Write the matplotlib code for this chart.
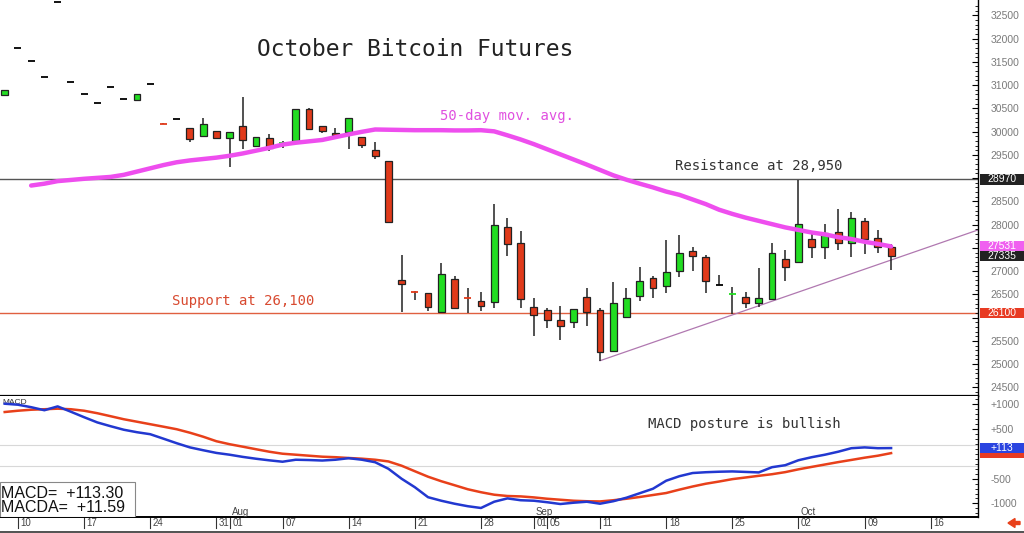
import matplotlib
matplotlib.use("Agg")
import matplotlib.pyplot as plt
import matplotlib.transforms as mtransforms
from matplotlib.patches import Rectangle, FancyArrow
from matplotlib.lines import Line2D
import numpy as np
import pandas as pd

# ---------------- data ----------------
trading_days = [d for d in pd.bdate_range("2023-07-07", "2023-10-20") if d != pd.Timestamp("2023-09-04")]
n_bars = 68
dates = trading_days[:n_bars]

opens = [30793, 31791, 31518, 31180, 32793, 31073, 30815, 30621, 30952, 30707,
         30679, 31017, 30180, 30271, 30084, 29912, 30013, 29856, 30127, 29697,
         29856, 29755, 29798, 30479, 30127, 29960, 29998, 29890, 29604, 29368,
         26809, 26570, 26536, 26115, 26824, 26425, 26358, 26330, 27942, 27598,
         26235, 26164, 25953, 25913, 26437, 26164, 25283, 26020, 26465, 26846,
         26680, 27009, 27439, 27297, 26702, 26505, 26450, 26321, 26394, 27254,
         27190, 27684, 27512, 27841, 27598, 28078, 27706, 27525]
highs = [30894, 31791, 31518, 31180, 32793, 31073, 30815, 30621, 30952, 30707,
         30815, 31017, 30180, 30271, 30084, 30286, 30013, 29998, 30750, 29890,
         29942, 29798, 30479, 30514, 30127, 30071, 30299, 29890, 29783, 29368,
         27347, 26570, 26536, 27168, 26895, 26631, 26545, 28443, 28149, 27869,
         26416, 26214, 26257, 26179, 26631, 26214, 26773, 26644, 27095, 26895,
         27669, 27777, 27525, 27347, 26917, 26652, 26558, 27074, 27598, 27454,
         28960, 27798, 28007, 28336, 28278, 28136, 27884, 27583]
lows = [30793, 31791, 31518, 31180, 32793, 31073, 30815, 30621, 30952, 30707,
        30679, 31017, 30165, 30271, 29783, 29912, 29869, 29232, 29626, 29697,
        29589, 29641, 29798, 30049, 29963, 29841, 29626, 29654, 29410, 28063,
        26115, 26379, 26142, 26115, 26214, 26093, 26136, 26201, 27332, 26214,
        25605, 25771, 25513, 25784, 25820, 25074, 25283, 26020, 26358, 26416,
        26536, 26880, 27009, 26536, 26702, 26078, 26201, 26236, 26394, 26794,
        27190, 27289, 27261, 27454, 27297, 27368, 27383, 27024]
closes = [30894, 31791, 31518, 31180, 32793, 31073, 30815, 30621, 30952, 30707,
          30815, 31017, 30165, 30271, 29841, 30157, 29869, 29998, 29819, 29890,
          29641, 29765, 30479, 30049, 30019, 29920, 30299, 29712, 29475, 28063,
          26723, 26550, 26235, 26932, 26214, 26410, 26257, 27992, 27577, 26394,
          26057, 25943, 25827, 26179, 26115, 25268, 26308, 26416, 26788, 26631,
          26988, 27383, 27325, 26794, 26702, 26515, 26308, 26416, 27383, 27082,
          28013, 27512, 27813, 27611, 28149, 27684, 27525, 27335]

ma50_start = 2
ma50 = [28840, 28880, 28935, 28960, 28985, 29005, 29025, 29070, 29140, 29210,
        29280, 29340, 29380, 29410, 29440, 29480, 29530, 29590, 29650, 29720,
        29760, 29790, 29820, 29880, 29940, 29995, 30045, 30040, 30035, 30030,
        30030, 30030, 30025, 30025, 30030, 30005, 29920, 29830, 29730, 29620,
        29510, 29400, 29290, 29175, 29060, 28965, 28880, 28800, 28710, 28640,
        28540, 28440, 28320, 28230, 28150, 28080, 28010, 27940, 27885, 27830,
        27790, 27730, 27690, 27630, 27585, 27531]

macd = [1005, 985, 935, 874, 951, 844, 734, 629, 553, 482,
        432, 392, 302, 211, 127, 70, 16, -20, -64, -101,
        -133, -161, -121, -127, -137, -121, -90, -121, -171, -302,
        -503, -673, -874, -945, -1005, -1055, -1091, -965, -898, -935,
        -945, -975, -1011, -985, -965, -1005, -955, -884, -794, -704,
        -543, -452, -388, -372, -362, -356, -366, -376, -271, -231,
        -131, -70, -20, 40, 111, 127, 111, 113.30]
signal = [838, 864, 884, 894, 905, 894, 864, 814, 754, 693,
          643, 593, 543, 492, 422, 342, 251, 191, 141, 90,
          40, 0, -20, -40, -60, -70, -86, -100, -121, -155,
          -241, -352, -462, -553, -633, -714, -774, -824, -850, -858,
          -878, -905, -925, -945, -955, -959, -935, -905, -870, -830,
          -790, -722, -659, -603, -559, -511, -478, -444, -412, -370,
          -314, -265, -217, -169, -125, -80, -40, 11.59]

resistance = 28970
support = 26100
trend_start = ("2023-09-11", 25074)
trend_end_value = 27885   # at right edge of chart

tick_dates = ["2023-07-10", "2023-07-17", "2023-07-24", "2023-07-31", "2023-08-01",
              "2023-08-07", "2023-08-14", "2023-08-21", "2023-08-28", "2023-09-01",
              "2023-09-05", "2023-09-11", "2023-09-18", "2023-09-25", "2023-10-02",
              "2023-10-09", "2023-10-16"]
month_marks = [("2023-08-01", "Aug"), ("2023-09-01", "Sep"), ("2023-10-02", "Oct")]

price_ticks = list(range(24500, 33000, 500))
price_ticks_hidden = [29000, 27500, 26000]   # covered by value boxes in the reference
macd_ticks = [1000, 500, -500, -1000]
macd_tick_labels = ["+1000", "+500", "-500", "-1000"]

# ---------------- helpers ----------------
day_index = {d.strftime("%Y-%m-%d"): i for i, d in enumerate(trading_days)}
x = np.arange(n_bars)

GREEN = "#22dd22"
RED = "#e03a1a"
MAG = "#ee4eee"
MONO = "DejaVu Sans Mono"
SANS = "Liberation Sans"

fig = plt.figure(figsize=(10.24, 5.33), dpi=100)
W, H = 1024, 533
ax_right = 978 / W
ax = fig.add_axes([0, 1 - 396 / H, ax_right, 396 / H])
ax2 = fig.add_axes([0, 1 - 517 / H, ax_right, 121 / H], sharex=ax)

xmin, xmax = -0.355, 73.57
ax.set_xlim(xmin, xmax)
ax.set_ylim(24315, 32829)
ax2.set_ylim(-1272, 1160)

# candles
px_per_unit = 396 / (32829 - 24315)
bw = 0.52
for i in x:
    o, h, l, c = opens[i], highs[i], lows[i], closes[i]
    col = GREEN if c > o else (RED if c < o else "black")
    if h > l:
        ax.vlines(i, l, h, color="#222222", lw=1.1, zorder=2)
    if abs(c - o) * px_per_unit < 1.6:
        ax.hlines((o + c) / 2, i - bw / 2, i + bw / 2, color=col, lw=1.3, zorder=3)
    else:
        ax.add_patch(Rectangle((i - bw / 2, min(o, c)), bw, abs(c - o),
                               facecolor=col, edgecolor="#222222", lw=0.9, zorder=3))

# moving average
ax.plot(np.arange(ma50_start, ma50_start + len(ma50)), ma50, color=MAG, lw=3.2,
        solid_capstyle="round", zorder=4)

# support / resistance / trend
ax.axhline(resistance, color="#555555", lw=1.0, zorder=1)
ax.axhline(support, color="#e06040", lw=1.0, zorder=1)
ax.plot([day_index[trend_start[0]], xmax], [trend_start[1], trend_end_value],
        color="#b078b0", lw=0.9, zorder=1)

# annotations
ax.text(415 / 978, 1 - 50 / 396, "October Bitcoin Futures", transform=ax.transAxes,
        fontsize=16.5, family=MONO, color="#222222", ha="center", va="center")
ax.text(507 / 978, 1 - 116 / 396, "50-day mov. avg.", transform=ax.transAxes,
        fontsize=10, family=MONO, color="#e050e0", ha="center", va="center")
ax.text(759 / 978, 1 - 166 / 396, "Resistance at 28,950", transform=ax.transAxes,
        fontsize=10, family=MONO, color="#333333", ha="center", va="center")
ax.text(243 / 978, 1 - 301 / 396, "Support at 26,100", transform=ax.transAxes,
        fontsize=10, family=MONO, color="#d84a30", ha="center", va="center")

# right price axis
for a in (ax, ax2):
    a.yaxis.tick_right()
    a.spines["left"].set_visible(False)
    a.spines["top"].set_visible(False)
    a.spines["right"].set_linewidth(1.0)
    a.tick_params(axis="y", direction="in", length=4, width=0.8, pad=9,
                  labelsize=7.5, labelcolor="#7a7a7a")
    a.tick_params(axis="y", which="minor", direction="in", length=2, width=0.6)
ax.set_yticks(price_ticks)
ax.set_yticklabels(["" if v in price_ticks_hidden else str(v) for v in price_ticks], family=SANS)
ax.set_yticks(np.arange(24400, 32800, 100), minor=True)
ax.spines["bottom"].set_linewidth(1.6)
ax.tick_params(axis="x", bottom=False, labelbottom=False)

ax2.set_yticks(macd_ticks)
ax2.set_yticklabels(macd_tick_labels, family=SANS)
ax2.set_yticks(np.arange(-1200, 1200, 100), minor=True)
ax2.spines["bottom"].set_linewidth(1.4)

def value_box(a, val, txt, bg, halfh):
    tr = mtransforms.blended_transform_factory(a.transAxes, a.transData)
    a.add_patch(Rectangle((1.002, val - halfh), 0.045, 2 * halfh, transform=tr,
                          facecolor=bg, edgecolor="none", clip_on=False, zorder=10))
    if txt:
        a.text(1.0245, val, txt, transform=tr, ha="center", va="center", color="white",
               fontsize=7.5, family=SANS, clip_on=False, zorder=11)

value_box(ax, resistance, "28970", "#222222", 115)
value_box(ax, 27531, "27531", "#f060f0", 112)
value_box(ax, 27335, "27335", "#222222", 108)
value_box(ax, support, "26100", "#e83a22", 115)

# MACD panel
ax2.axhline(170, color="#d8d8d8", lw=0.8, zorder=0)
ax2.axhline(-240, color="#d8d8d8", lw=0.8, zorder=0)
ax2.plot(x, signal, color="#e8401a", lw=1.8, zorder=3)
ax2.plot(x, macd, color="#2238d0", lw=1.8, zorder=4)
ax2.text(2 / 978, 1 - 7 / 121, "MACD", transform=ax2.transAxes, fontsize=6,
         family=SANS, color="#333333", ha="left", va="center")
ax2.text(744 / 978, 1 - 28 / 121, "MACD posture is bullish", transform=ax2.transAxes,
         fontsize=10, family=MONO, color="#333333", ha="center", va="center")
ax2.add_patch(Rectangle((0, 0), 135 / 978, 35 / 121, transform=ax2.transAxes,
                        facecolor="white", edgecolor="#888888", lw=0.8, zorder=6))
ax2.text(1 / 978, 1 - 97 / 121, "MACD=  +%.2f" % macd[-1], transform=ax2.transAxes,
         fontsize=11.5, family=SANS, color="#111111", ha="left", va="center", zorder=7)
ax2.text(1 / 978, 1 - 112 / 121, "MACDA=  +%.2f" % signal[-1], transform=ax2.transAxes,
         fontsize=11.5, family=SANS, color="#111111", ha="left", va="center", zorder=7)
value_box(ax2, 20, "", "#e83a22", 100)
value_box(ax2, 113.3, "+113", "#2a44e0", 100)

# x axis: day ticks with labels to the right of each tick
ax2.tick_params(axis="x", bottom=False, labelbottom=False)
trx = mtransforms.blended_transform_factory(ax2.transData, ax2.transAxes)
for d in tick_dates:
    i = day_index[d]
    ax2.plot([i, i], [0, -11 / 121], transform=trx, color="#333333", lw=0.8, clip_on=False)
    ax2.text(i + 0.2, -6 / 121, pd.Timestamp(d).strftime("%d"), transform=trx,
             fontsize=7, family=SANS, color="#444444", ha="left", va="center", clip_on=False)
for d, m in month_marks:
    i = day_index[d]
    ax2.text(i + 0.15, 5 / 121, m, transform=trx, fontsize=7, family=SANS,
             color="#444444", ha="left", va="center")

# bottom frame line and red arrow
fig.add_artist(Line2D([0, 1], [1 / H, 1 / H], transform=fig.transFigure, color="#333333", lw=1.2))
fig.add_artist(FancyArrow(1020 / W, 10 / H, -12 / W, 0, width=3 / H, head_width=9 / H,
                          head_length=7 / W, length_includes_head=True,
                          transform=fig.transFigure, color="#e8401a"))

fig.savefig("out.png", dpi=100)
